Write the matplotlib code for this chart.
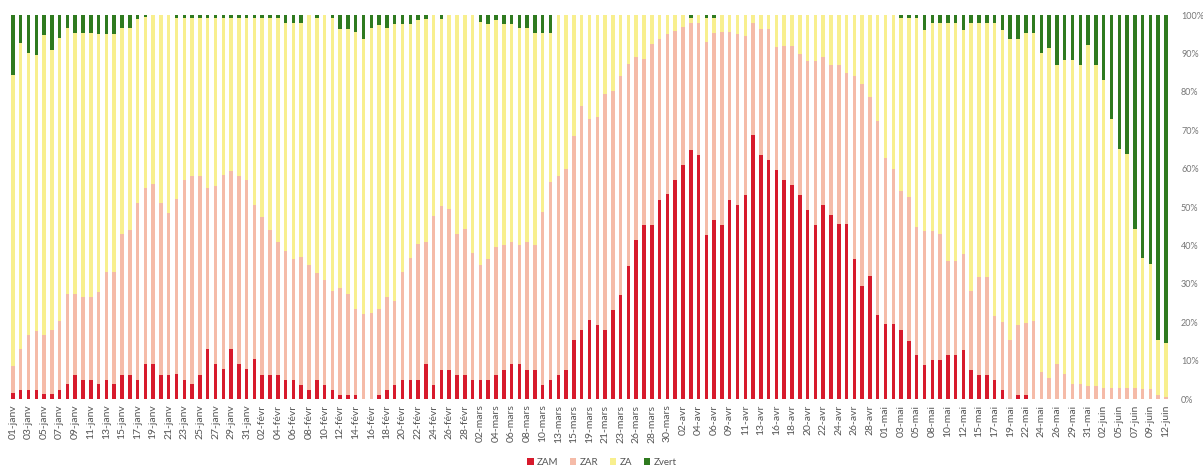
import numpy as np
import matplotlib.pyplot as plt

# étiquettes de l'axe x (une barre sur deux)
tick_labels = ['01-janv', '03-janv', '05-janv', '07-janv', '09-janv', '11-janv', '13-janv', '15-janv',
               '17-janv', '19-janv', '21-janv', '23-janv', '25-janv', '27-janv', '29-janv', '31-janv',
               '02-févr', '04-févr', '06-févr', '08-févr', '10-févr', '12-févr', '14-févr', '16-févr',
               '18-févr', '20-févr', '22-févr', '24-févr', '26-févr', '28-févr',
               '02-mars', '04-mars', '06-mars', '08-mars', '10-mars', '13-mars', '15-mars', '19-mars',
               '21-mars', '23-mars', '26-mars', '28-mars', '30-mars',
               '02-avr', '04-avr', '06-avr', '09-avr', '11-avr', '13-avr', '16-avr', '18-avr',
               '20-avr', '22-avr', '24-avr', '26-avr', '28-avr',
               '01-mai', '03-mai', '05-mai', '08-mai', '10-mai', '12-mai', '15-mai', '17-mai',
               '19-mai', '22-mai', '24-mai', '26-mai', '29-mai', '31-mai',
               '02-juin', '05-juin', '07-juin', '09-juin', '12-juin']

# ZAM (rouge), en %
zam = [1.5, 2.3, 2.3, 2.3, 1.4, 1.4, 2.3, 3.9, 6.3, 5, 5, 3.9, 5, 3.8, 6.3, 6.3, 5, 9, 9, 6.3,
       6.3, 6.5, 5, 3.9, 6.3, 12.9, 9, 7.8, 12.9, 9, 7.8, 10.3, 6.3, 6.3, 6.3, 5, 5, 3.7, 2.4, 5,
       3.7, 2.4, 1.1, 1.1, 1.1, 0, 0, 1.1, 2.4, 3.7, 5, 5, 5, 9, 3.7, 7.6, 7.6, 6.3, 6.3, 5,
       5, 5, 6.3, 7.6, 9, 9, 7.6, 7.6, 3.7, 5, 6.3, 7.6, 15.4, 18, 20.6, 19.3, 18, 23.2, 27.1, 34.7,
       41.4, 45.3, 45.3, 51.8, 53.4, 57.1, 61, 64.9, 63.6, 42.8, 46.7, 45.4, 51.9, 50.6, 53.2, 68.8,
       63.6, 62.3, 59.7, 57.1, 55.8, 53.2, 49.3, 45.4, 50.6, 48, 45.6, 45.6, 36.5, 29.5, 32.1, 22,
       19.5, 19.5, 18, 15.2, 11.5, 8.9, 10.1, 10.1, 11.5, 11.5, 12.8, 7.6, 6.3, 6.3, 5, 2.3, 0, 1.1,
       1.1, 0, 0, 0, 0, 0, 0, 0, 0, 0, 0, 0, 0, 0, 0, 0, 0, 0, 0]

# ZAM + ZAR (haut de la partie rose), en %
zam_zar = [8.5, 13, 16.7, 17.8, 16.7, 18, 20.4, 27.3, 27.3, 26.5, 26.5, 28, 33, 33, 43, 44, 51, 55, 56, 51,
           48.5, 52, 57, 58.2, 58, 55, 55.5, 58.4, 59.5, 58, 57, 50.5, 47.5, 44, 41, 38.6, 36.5, 37, 35, 32.8,
           31, 28.2, 28.8, 27.3, 23.5, 22.1, 22.5, 23.5, 26.5, 25.5, 33, 36.6, 40.3, 40.8, 47.7, 50.3, 49.5, 43, 44.2, 38,
           35, 36.5, 39.5, 40, 40.8, 40, 40.8, 40.2, 48.6, 56.5, 58, 60, 68.4, 76.4, 73, 73.5, 79.4, 80.3, 84.2, 87.2,
           89, 88.5, 92.4, 93.7, 95, 95.9, 96.8, 98, 98, 92.9, 95.4, 95.5, 95.5, 95, 94.5, 98, 96.4, 96.4, 91.6, 92,
           92, 89.8, 88.1, 88, 89, 87, 87, 85, 84, 82, 78.6, 72.5, 62.9, 60, 54.2, 52.5, 44.7, 43.8, 43.8, 43,
           36, 36, 37.8, 28.2, 31.7, 31.7, 21.5, 20, 15.5, 19.2, 19.8, 20.4, 7, 5.6, 9, 6.5, 4, 3.9, 3.5, 3.5,
           3, 3, 3, 3, 3, 2.5, 2.5, 1, 0.5]

# Zvert (vert, en haut), en %
zvert = [15.6, 7.4, 10, 10.5, 5.2, 9, 6, 3.5, 4.8, 4.8, 4.8, 5, 5, 5, 3.5, 3.5, 1.1, 0.5, 0, 0,
         0, 0.8, 0.8, 0.8, 0.8, 0.8, 0.8, 0.8, 0.8, 0.8, 0.8, 0.8, 0.8, 0.8, 0.8, 2.2, 2.2, 2.2, 0, 0.8,
         0, 0.8, 3.7, 3.7, 4.5, 6.2, 3.5, 2.6, 3.5, 2.4, 2.4, 2.4, 1.3, 1, 0, 1, 0, 0, 0, 0,
         1.8, 2.4, 1.3, 2.4, 2.4, 3.5, 3.5, 4.8, 4.8, 4.8, 0, 0, 0, 0, 0, 0, 0, 0, 0, 0,
         0, 0, 0, 0, 0, 0, 0, 0.8, 0, 0.8, 0.8, 0, 0, 0, 0, 0, 0, 0, 0, 0,
         0, 0, 0, 0, 0, 0, 0, 0, 0, 0, 0, 0, 0, 0, 0.8, 0.8, 0.8, 3.9, 2.2, 2.2,
         2.2, 2.2, 3.9, 2.2, 2.2, 2.2, 2.2, 3.9, 6.3, 6.3, 4.8, 4.8, 10, 8.5, 12.9, 11.7, 11.7, 12.9, 7.8, 13,
         17, 27, 35, 36.3, 55.6, 63.4, 64.9, 84.5, 85.5]

zam = np.array(zam)
zar = np.array(zam_zar) - zam
zvert = np.array(zvert)
za = 100 - zam - zar - zvert

x = np.arange(len(zam))
w = 0.45

fig = plt.figure(figsize=(12.03, 4.70), dpi=100)
ax = fig.add_axes([0.0075, 0.151, 0.965, 0.817])

ax.bar(x, zam, w, color='#d71a2c', label='ZAM')
ax.bar(x, zar, w, bottom=zam, color='#f5bba8', label='ZAR')
ax.bar(x, za, w, bottom=zam + zar, color='#f8ef8e', label='ZA')
ax.bar(x, zvert, w, bottom=zam + zar + za, color='#2f7a1f', label='Zvert')

ax.set_xlim(-0.5, len(x) - 0.5)
ax.set_ylim(0, 100)

ax.set_xticks(x[::2])
ax.set_xticklabels(tick_labels, rotation=90, fontsize=7.5, color='#555555', family='Lato')
ax.tick_params(axis='x', length=0, pad=4)

ax.yaxis.tick_right()
ax.set_yticks(np.arange(0, 101, 10))
ax.set_yticklabels([f'{v}%' for v in range(0, 101, 10)], fontsize=6.5, color='#777777', family='Lato')
ax.tick_params(axis='y', length=0, pad=8)

for s in ax.spines.values():
    s.set_visible(False)

leg = fig.legend(loc='lower center', bbox_to_anchor=(0.5, -0.012), ncol=4, frameon=False,
                 handlelength=0.7, handleheight=0.7, handletextpad=0.3, columnspacing=1.2,
                 prop={'family': 'Lato', 'size': 7})
for t in leg.get_texts():
    t.set_color('#555555')

fig.savefig('out.png', dpi=100)
